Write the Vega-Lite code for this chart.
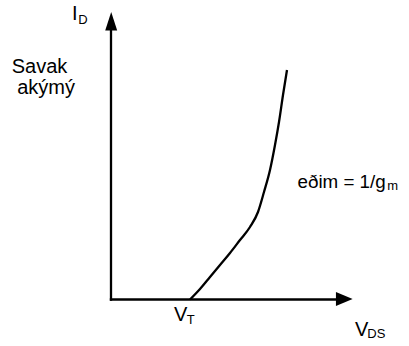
{
  "$schema": "https://vega.github.io/schema/vega-lite/v6.json",
  "width": 409,
  "height": 346,
  "padding": 0,
  "autosize": {"type": "fit", "contains": "padding"},
  "config": {"view": {"stroke": null}},
  "encoding": {
    "x": {"field": "x", "type": "quantitative", "axis": null,
          "scale": {"domain": [-111, 298], "nice": false, "zero": false}},
    "y": {"field": "y", "type": "quantitative", "axis": null,
          "scale": {"domain": [-46.5, 299.5], "nice": false, "zero": false}}
  },
  "layer": [
    {
      "description": "Axis shafts: I_D (vertical) and V_DS (horizontal)",
      "data": {"values": [
        {"x": 0, "y": -1.2, "x2": 0, "y2": 269.5},
        {"x": -1.2, "y": 0, "x2": 225, "y2": 0}
      ]},
      "mark": {"type": "rule", "color": "black", "strokeWidth": 2.3},
      "encoding": {"x2": {"field": "x2"}, "y2": {"field": "y2"}}
    },
    {
      "description": "Arrow head on the I_D axis",
      "data": {"values": [{"x": 0.2, "y": 278.3}]},
      "mark": {"type": "point", "filled": true, "color": "black", "opacity": 1,
               "shape": "M-0.65,1L0,-1L0.65,1Z", "size": 340, "strokeWidth": 0}
    },
    {
      "description": "Arrow head on the V_DS axis",
      "data": {"values": [{"x": 233.3, "y": 0.4}]},
      "mark": {"type": "point", "filled": true, "color": "black", "opacity": 1,
               "shape": "M-1,-0.84L1,0L-1,0.84Z", "size": 279, "strokeWidth": 0}
    },
    {
      "description": "Drain current vs drain-source voltage, rising from V_T",
      "data": {"values": [
        {"x": 79, "y": 0},
        {"x": 89, "y": 10.5},
        {"x": 99, "y": 22.5},
        {"x": 109, "y": 34.5},
        {"x": 119, "y": 46.5},
        {"x": 129, "y": 59.5},
        {"x": 139, "y": 72.5},
        {"x": 147, "y": 87.5},
        {"x": 153, "y": 107.5},
        {"x": 159, "y": 129.5},
        {"x": 164, "y": 154.5},
        {"x": 168, "y": 177.5},
        {"x": 172, "y": 204.5},
        {"x": 176, "y": 229.5}
      ]},
      "mark": {"type": "line", "color": "black", "strokeWidth": 2.3, "interpolate": "monotone"}
    },
    {
      "description": "Main labels",
      "data": {"values": [
        {"x": -39, "y": 279.5, "label": "I"},
        {"x": -99.3, "y": 227, "label": "Savak"},
        {"x": -93.8, "y": 205.5, "label": "akýmý"},
        {"x": 63, "y": -21.5, "label": "V"},
        {"x": 244, "y": -36.5, "label": "V"}
      ]},
      "mark": {"type": "text", "align": "left", "baseline": "alphabetic",
               "font": "Liberation Sans", "fontSize": 20, "color": "black"},
      "encoding": {"text": {"field": "label"}}
    },
    {
      "description": "Slope annotation",
      "data": {"values": [
        {"x": 186.5, "y": 111.5, "label": "eðim = 1/g"}
      ]},
      "mark": {"type": "text", "align": "left", "baseline": "alphabetic",
               "font": "Liberation Sans", "fontSize": 18.8, "color": "black"},
      "encoding": {"text": {"field": "label"}}
    },
    {
      "description": "Subscripts",
      "data": {"values": [
        {"x": -32.7, "y": 275.5, "label": "D"},
        {"x": 75.7, "y": -24.5, "label": "T"},
        {"x": 256.3, "y": -38, "label": "DS"},
        {"x": 276.3, "y": 109.5, "label": "m"}
      ]},
      "mark": {"type": "text", "align": "left", "baseline": "alphabetic",
               "font": "Liberation Sans", "fontSize": 13, "color": "black"},
      "encoding": {"text": {"field": "label"}}
    }
  ]
}
